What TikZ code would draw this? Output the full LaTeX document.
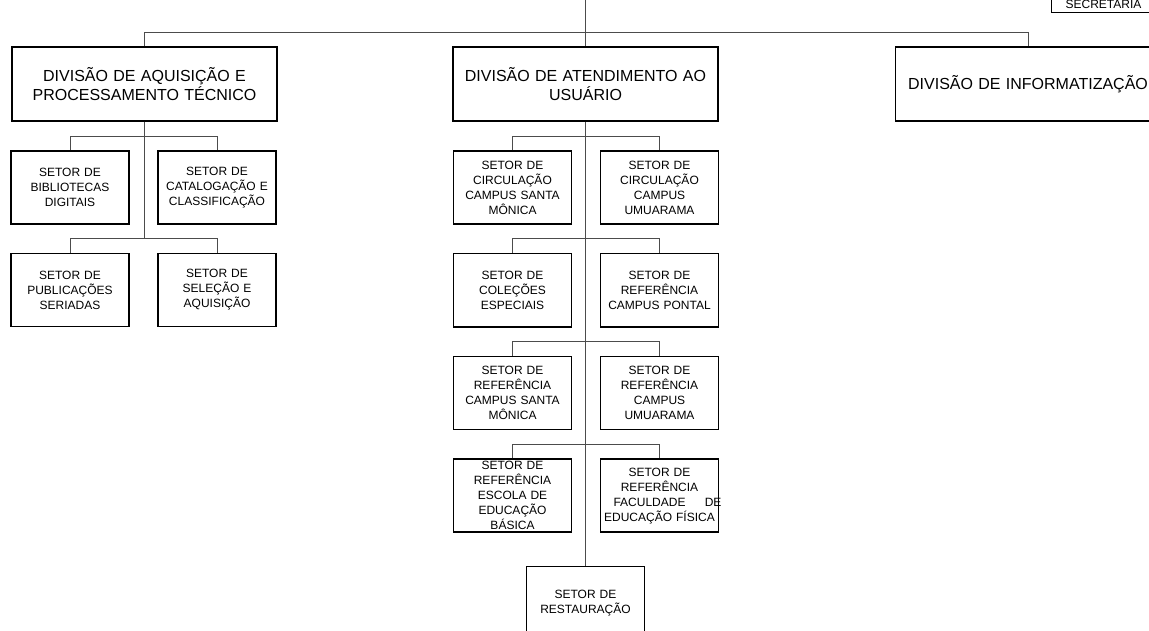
\documentclass[tikz,border=0pt]{standalone}
\usepackage{fontspec}
\setmainfont{Liberation Sans}
\usetikzlibrary{positioning}

\tikzset{
  divisao/.style={draw, line width=1.6pt, rectangle, minimum width=265pt, minimum height=74pt,
    inner sep=0pt, text width=255pt, align=center, font=\fontsize{16}{19}\selectfont},
  setor/.style={draw, line width=1.6pt, rectangle, minimum width=118pt, minimum height=73pt,
    inner sep=0pt, text width=111pt, align=center, font=\fontsize{12}{15}\selectfont},
  link/.style={draw=black!70, line width=0.9pt}
}

\begin{document}
\begin{tikzpicture}[x=1pt, y=-1pt, on grid]
  \useasboundingbox (0,0) rectangle (1149,631);
  \clip (0,0) rectangle (1149,631);

  % divisoes
  \node[divisao] (atend) at (585.5,84) {DIVIS\~AO DE ATENDIMENTO AO\\USU\'ARIO};
  \node[divisao] [left=441pt of atend] (aquis) {DIVIS\~AO DE AQUISI\c{C}\~AO E\\PROCESSAMENTO T\'ECNICO};
  \node[divisao] [right=442.5pt of atend] (inform) {DIVIS\~AO DE INFORMATIZA\c{C}\~AO};
  \node[setor, minimum width=104pt, minimum height=17pt, text width=100pt] (secret) at (1103.5,4) {SECRETARIA};

  % setores da aquisicao
  \node[setor] [below left=103.5pt and 74.5pt of aquis] (bib) {SETOR DE\\BIBLIOTECAS\\DIGITAIS};
  \node[setor] [right=147pt of bib] (catal) {SETOR DE\\CATALOGA\c{C}\~AO E\\CLASSIFICA\c{C}\~AO};
  \node[setor] [below=102.5pt of bib] (pub) {SETOR DE\\PUBLICA\c{C}\~OES\\SERIADAS};
  \node[setor] [right=147pt of pub] (sel) {SETOR DE\\SELE\c{C}\~AO E\\AQUISI\c{C}\~AO};

  % setores do atendimento
  \node[setor] [below left=103.5pt and 73pt of atend] (circsm) {SETOR DE\\CIRCULA\c{C}\~AO\\CAMPUS SANTA\\M\^ONICA};
  \node[setor] [right=147pt of circsm] (circum) {SETOR DE\\CIRCULA\c{C}\~AO\\CAMPUS\\UMUARAMA};
  \node[setor] [below=102.7pt of circsm] (colec) {SETOR DE\\COLE\c{C}\~OES\\ESPECIAIS};
  \node[setor] [right=147pt of colec] (refpont) {SETOR DE\\REFER\^ENCIA\\CAMPUS PONTAL};
  \node[setor] [below=102.7pt of colec] (refsm) {SETOR DE\\REFER\^ENCIA\\CAMPUS SANTA\\M\^ONICA};
  \node[setor] [right=147pt of refsm] (refum) {SETOR DE\\REFER\^ENCIA\\CAMPUS\\UMUARAMA};
  \node[setor] [below=102.7pt of refsm] (refesc) {SETOR DE\\REFER\^ENCIA\\ESCOLA DE\\EDUCA\c{C}\~AO\\B\'ASICA};
  \node[setor] [right=147pt of refesc] (reffac) {SETOR DE\\REFER\^ENCIA\\\makebox[117.5pt][s]{\hspace{9.5pt}FACULDADE\hfill DE}\\EDUCA\c{C}\~AO F\'ISICA};
  \node[setor] [below=519pt of atend] (restaur) {SETOR DE\\RESTAURA\c{C}\~AO};

  % ligacoes
  \draw[link] (atend.north) -- ++(0,-50);
  \draw[link] (aquis.north) -- ++(0,-14) -| (inform.north);
  \draw[link] (aquis.south) -- ([yshift=14pt]pub.north -| aquis.south);
  \draw[link] (bib.north) -- ++(0,-14) -| (catal.north);
  \draw[link] (pub.north) -- ++(0,-14) -| (sel.north);
  \draw[link] (atend.south) -- (restaur.north);
  \foreach \l/\r in {circsm/circum, colec/refpont, refsm/refum, refesc/reffac}
    \draw[link] (\l.north) -- ++(0,-14) -| (\r.north);
\end{tikzpicture}
\end{document}
